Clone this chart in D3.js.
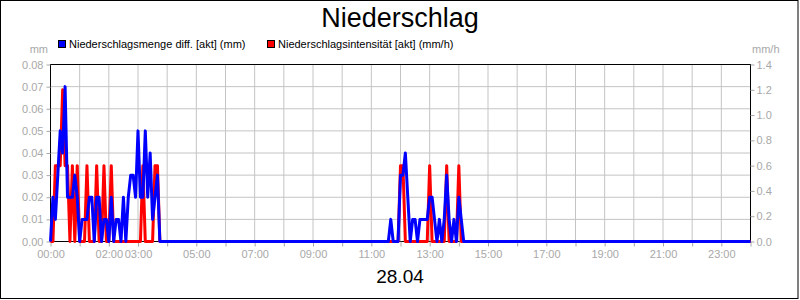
<!DOCTYPE html>
<html>
<head>
<meta charset="utf-8">
<script src="https://cdn.jsdelivr.net/npm/d3@7"></script>
<style>
  body { margin: 0; background: #fff; }
  svg { display: block; font-family: "Liberation Sans", Arial, sans-serif; }
</style>
</head>
<body>
<svg id="chart"></svg>
<script>
// Werte (5-Minuten-Schritte)
const stepMinutes = 5;

const block1Start = "00:00";
const block1Menge = [0, 0.02, 0.01, 0.03, 0.05, 0.04, 0.07, 0.02, 0.02, 0.02, 0.03, 0.02, 0, 0.01, 0.01, 0.01,
    0.02, 0.02, 0, 0.02, 0.02, 0, 0.01, 0.01, 0, 0.02, 0, 0.01, 0.01, 0, 0.02, 0, 0.02, 0.03, 0.03, 0.02,
    0.05, 0.02, 0.02, 0.05, 0.02, 0.04, 0.01, 0.02, 0.03, 0, 0];
const block1Intensitaet = [0, 0, 0.6, 0.6, 0.6, 1.2, 0.6, 0.6, 0, 0.6, 0, 0.6, 0, 0, 0, 0.6,
    0, 0, 0, 0.6, 0, 0, 0.6, 0, 0, 0.6, 0, 0, 0, 0, 0, 0, 0, 0, 0, 0,
    0, 0, 0.6, 0, 0, 0, 0, 0.6, 0.6, 0, 0];

const block2Start = "11:30";
const block2Menge = [0, 0, 0.01, 0, 0, 0, 0.03, 0.03, 0.04, 0.02, 0, 0.01, 0.01, 0, 0.01, 0.01, 0.01,
    0.01, 0.02, 0.02, 0.01, 0, 0.01, 0, 0.01, 0.03, 0.01, 0, 0.01, 0, 0.02, 0.01, 0, 0];
const block2Intensitaet = [0, 0, 0, 0, 0, 0, 0.6, 0.6, 0, 0, 0, 0, 0, 0, 0, 0, 0,
    0, 0.6, 0, 0, 0, 0, 0, 0, 0.6, 0, 0, 0, 0, 0.6, 0, 0, 0];

const dayEnd = "24:00";

const leftTicks = [0, 0.01, 0.02, 0.03, 0.04, 0.05, 0.06, 0.07, 0.08];
const rightTicks = [0, 0.2, 0.4, 0.6, 0.8, 1.0, 1.2, 1.4];
const hourTicks = d3.range(0, 25);
const xTickLabels = ["00:00", "02:00", "03:00", "05:00", "07:00", "09:00", "11:00", "13:00",
    "15:00", "17:00", "19:00", "21:00", "23:00"];

const title = "Niederschlag";
const dateLabel = "28.04";
const legendMenge = "Niederschlagsmenge diff. [akt] (mm)";
const legendIntens = "Niederschlagsintensität [akt] (mm/h)";

// Dimensionen
const width = 800;
const height = 300;
const grey = "#a8a8a8";

const svg = d3.select("#chart")
    .attr("width", width)
    .attr("height", height);

// Hilfsfunktion: "hh:mm" -> Minuten
const toMin = s => { const [h, m] = s.split(":").map(Number); return h * 60 + m; };

function buildSeries(blocks) {
    const pts = [];
    blocks.forEach(([start, values]) => {
        const t0 = toMin(start);
        values.forEach((v, i) => pts.push({ t: t0 + i * stepMinutes, v }));
    });
    pts.push({ t: toMin(dayEnd), v: 0 });
    return pts;
}

const mengeSeries = buildSeries([[block1Start, block1Menge], [block2Start, block2Menge]]);
const intensSeries = buildSeries([[block1Start, block1Intensitaet], [block2Start, block2Intensitaet]]);

// Skalen
const x = d3.scaleLinear().domain([0, 24 * 60]).range([50.5, 750.5]);
const yLeft = d3.scaleLinear().domain([0, 0.08]).range([241.5, 64.5]);
const yRight = d3.scaleLinear().domain([0, 1.4]).range([241.5, 64.5]);

// Rahmen aussen
svg.append("rect")
    .attr("x", 0.5).attr("y", 0.5)
    .attr("width", 797.5).attr("height", 298)
    .attr("fill", "#fff")
    .attr("stroke", "#000");

// Titel
svg.append("text")
    .attr("x", 400).attr("y", 27)
    .attr("text-anchor", "middle")
    .attr("font-size", "27px")
    .text(title);

// Legende
const legend = [[legendMenge, "#0000ff", 58.5], [legendIntens, "#ff0000", 267.5]];
legend.forEach(([label, color, lx]) => {
    svg.append("rect")
        .attr("x", lx).attr("y", 40.5)
        .attr("width", 7).attr("height", 7)
        .attr("fill", color)
        .attr("stroke", "#000");
    svg.append("text")
        .attr("x", lx + 10.5).attr("y", 47.5)
        .attr("font-size", "11px")
        .attr("fill", "#000")
        .text(label);
});

// Einheiten
svg.append("text").attr("x", 48).attr("y", 53).attr("text-anchor", "end")
    .attr("font-size", "11px").attr("fill", grey).text("mm");
svg.append("text").attr("x", 752).attr("y", 53)
    .attr("font-size", "11px").attr("fill", grey).text("mm/h");

// Gitter
const grid = svg.append("g").attr("stroke", "#c4c4c4").attr("stroke-width", 1);
grid.selectAll(".gh").data(leftTicks).enter().append("line")
    .attr("x1", x.range()[0]).attr("x2", x.range()[1])
    .attr("y1", d => yLeft(d)).attr("y2", d => yLeft(d));
grid.selectAll(".gv").data(hourTicks).enter().append("line")
    .attr("x1", d => x(d * 60)).attr("x2", d => x(d * 60))
    .attr("y1", yLeft.range()[0]).attr("y2", yLeft.range()[1]);

// Plotrahmen
svg.append("rect")
    .attr("x", x.range()[0]).attr("y", yLeft.range()[1])
    .attr("width", x.range()[1] - x.range()[0])
    .attr("height", yLeft.range()[0] - yLeft.range()[1])
    .attr("fill", "none")
    .attr("stroke", "#000");

// Achsen
function styleAxis(g) {
    g.select(".domain").remove();
    g.selectAll(".tick line").attr("stroke", grey);
    g.selectAll(".tick text")
        .attr("fill", grey)
        .attr("font-size", "11px")
        .attr("font-family", "'Liberation Sans', Arial, sans-serif");
}

svg.append("g")
    .attr("transform", "translate(50.5,0)")
    .call(d3.axisLeft(yLeft).tickValues(leftTicks).tickFormat(d3.format(".2f")).tickSize(4).tickPadding(3))
    .call(styleAxis);

svg.append("g")
    .attr("transform", "translate(750.5,0)")
    .call(d3.axisRight(yRight).tickValues(rightTicks).tickFormat(d3.format(".1f")).tickSize(4).tickPadding(2))
    .call(styleAxis);

const hourFmt = d => d3.format("02")(d / 60) + ":00";
svg.append("g")
    .attr("transform", "translate(0,241.5)")
    .call(d3.axisBottom(x).tickValues(hourTicks.map(h => h * 60)).tickSize(5).tickPadding(4)
        .tickFormat(d => xTickLabels.includes(hourFmt(d)) ? hourFmt(d) : ""))
    .call(styleAxis);

// Linien
const lineIntens = d3.line().x(d => x(d.t)).y(d => yRight(d.v));
const lineMenge = d3.line().x(d => x(d.t)).y(d => yLeft(d.v));

svg.append("path")
    .datum(intensSeries)
    .attr("d", lineIntens)
    .attr("fill", "none")
    .attr("stroke", "#ff0000")
    .attr("stroke-width", 3)
    .attr("stroke-linejoin", "round");

svg.append("path")
    .datum(mengeSeries)
    .attr("d", lineMenge)
    .attr("fill", "none")
    .attr("stroke", "#0000ff")
    .attr("stroke-width", 3)
    .attr("stroke-linejoin", "round");

// Datum
svg.append("text")
    .attr("x", 400).attr("y", 283)
    .attr("text-anchor", "middle")
    .attr("font-size", "19px")
    .text(dateLabel);
</script>
</body>
</html>
